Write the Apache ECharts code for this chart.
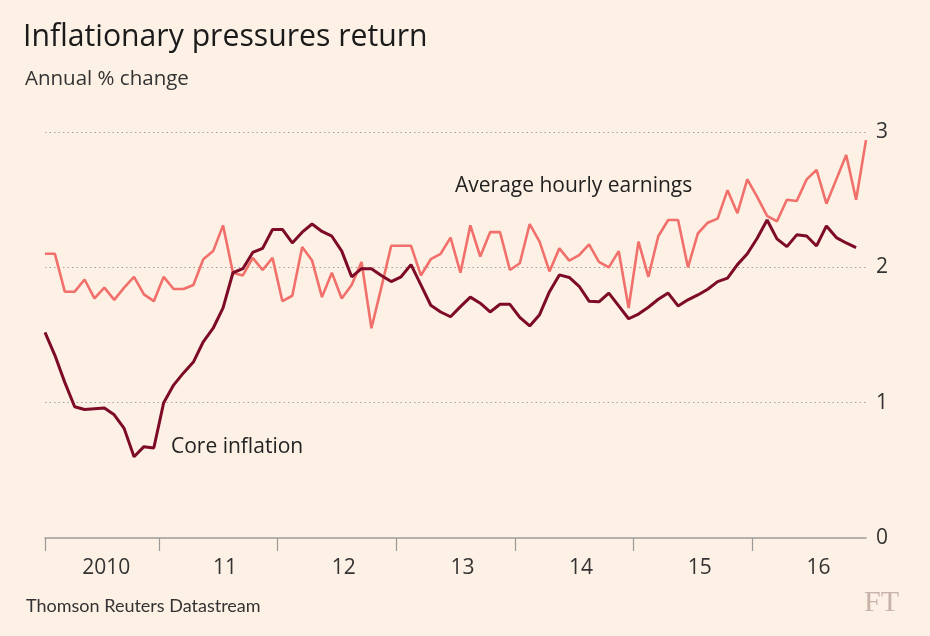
<!DOCTYPE html>
<html>
<head>
<meta charset="utf-8">
<script src="https://cdn.jsdelivr.net/npm/echarts@6/dist/echarts.min.js"></script>
<style>
html,body{margin:0;padding:0;background:#fdf0e4;}
#chart{width:930px;height:636px;}
</style>
</head>
<body>
<div id="chart"></div>
<script>
// Monthly, Jan 2010 .. Dec 2016 (index 0..83)
const yearLabels = ['2010','11','12','13','14','15','16'];
const yTicks = [0, 1, 2, 3];
const earnings = [
  2.10,2.10,1.82,1.82,1.91,1.77,1.85,1.76,1.85,1.93,1.80,1.75,
  1.93,1.84,1.84,1.87,2.06,2.12,2.31,1.96,1.94,2.07,1.98,2.07,
  1.75,1.79,2.15,2.05,1.78,1.96,1.77,1.87,2.04,1.55,1.85,2.16,
  2.16,2.16,1.94,2.06,2.10,2.22,1.96,2.31,2.08,2.26,2.26,1.98,
  2.03,2.32,2.19,1.97,2.14,2.05,2.09,2.17,2.04,2.00,2.12,1.70,
  2.19,1.93,2.23,2.35,2.35,2.00,2.25,2.33,2.36,2.57,2.40,2.65,
  2.52,2.38,2.34,2.50,2.49,2.65,2.72,2.47,2.65,2.83,2.50,2.94
];
const coreInflation = [
  1.52,1.35,1.15,0.97,0.95,0.955,0.96,0.91,0.81,0.60,0.675,0.665,
  1.00,1.13,1.22,1.30,1.45,1.55,1.70,1.96,1.99,2.11,2.14,2.28,
  2.28,2.18,2.26,2.32,2.265,2.23,2.12,1.93,1.99,1.99,1.94,1.895,
  1.93,2.02,1.87,1.72,1.67,1.635,1.71,1.78,1.735,1.67,1.727,1.727,
  1.63,1.567,1.65,1.82,1.944,1.925,1.86,1.75,1.745,1.81,1.715,1.62,
  1.655,1.705,1.764,1.81,1.715,1.76,1.796,1.838,1.894,1.92,2.02,2.10,
  2.215,2.35,2.21,2.153,2.24,2.232,2.158,2.306,2.22,2.18,2.146,null
];

const toPairs = arr => arr.map((v, i) => [i, v]);
const tickPos = yearLabels.map((_, k) => k === 0 ? 0 : 12 * k - 0.5);
const labelPos = yearLabels.map((_, k) => 12 * k + 6.2);

const chart = echarts.init(document.getElementById('chart'));
const FONT = 'Open Sans';
chart.setOption({
  backgroundColor: '#fdf0e4',
  animation: false,
  textStyle: { fontFamily: FONT },
  title: [
    { text: 'Inflationary pressures return', left: 18, top: 17,
      textStyle: { fontFamily: FONT, fontSize: 30.2, fontWeight: 'normal', color: '#1a1a1a' } },
    { text: 'Annual % change', left: 20, top: 64,
      textStyle: { fontFamily: FONT, fontSize: 20.5, fontWeight: 'normal', color: '#333' } },
    { text: 'Thomson Reuters Datastream', left: 21, top: 592,
      textStyle: { fontFamily: 'Lato', fontSize: 18, fontWeight: 'normal', color: '#333' } }
  ],
  graphic: [
    { type: 'text', left: 864, top: 588,
      style: { text: 'FT', font: '30px "Liberation Serif"', fill: '#c9b2aa' } },
    { type: 'text', left: 455, top: 176,
      style: { text: 'Average hourly earnings', font: '21px "Open Sans"', fill: '#222' } },
    { type: 'text', left: 171, top: 437,
      style: { text: 'Core inflation', font: '21px "Open Sans"', fill: '#222' } }
  ],
  grid: { left: 45, right: 64, top: 132, bottom: 98 },
  xAxis: {
    type: 'value', min: 0, max: 83,
    axisLine: { show: true, lineStyle: { color: '#9a9a9a', width: 1.5 } },
    axisTick: { show: true, length: 13, customValues: tickPos,
      lineStyle: { color: '#9a9a9a', width: 1.2 } },
    axisLabel: { show: true, customValues: labelPos, margin: 20,
      fontFamily: FONT, fontSize: 21, color: '#333',
      formatter: v => yearLabels[Math.round((v - 6.2) / 12)] },
    splitLine: { show: false }
  },
  yAxis: {
    type: 'value', position: 'right', min: 0, max: 3, interval: 1,
    axisLine: { show: false }, axisTick: { show: false },
    axisLabel: { margin: 10, fontFamily: FONT, fontSize: 21, color: '#333',
      formatter: v => yTicks.includes(v) ? String(v) : '' },
    splitLine: { show: true, showMinLine: false,
      lineStyle: { color: '#a8a29c', type: [1.5, 3], width: 1.2 } }
  },
  series: [
    { name: 'Average hourly earnings', type: 'line', data: toPairs(earnings),
      symbol: 'none', lineStyle: { color: '#f1706c', width: 2.6 }, z: 2 },
    { name: 'Core inflation', type: 'line', data: toPairs(coreInflation),
      symbol: 'none', connectNulls: false, lineStyle: { color: '#7d0a27', width: 3 }, z: 3 }
  ]
});
</script>
</body>
</html>
